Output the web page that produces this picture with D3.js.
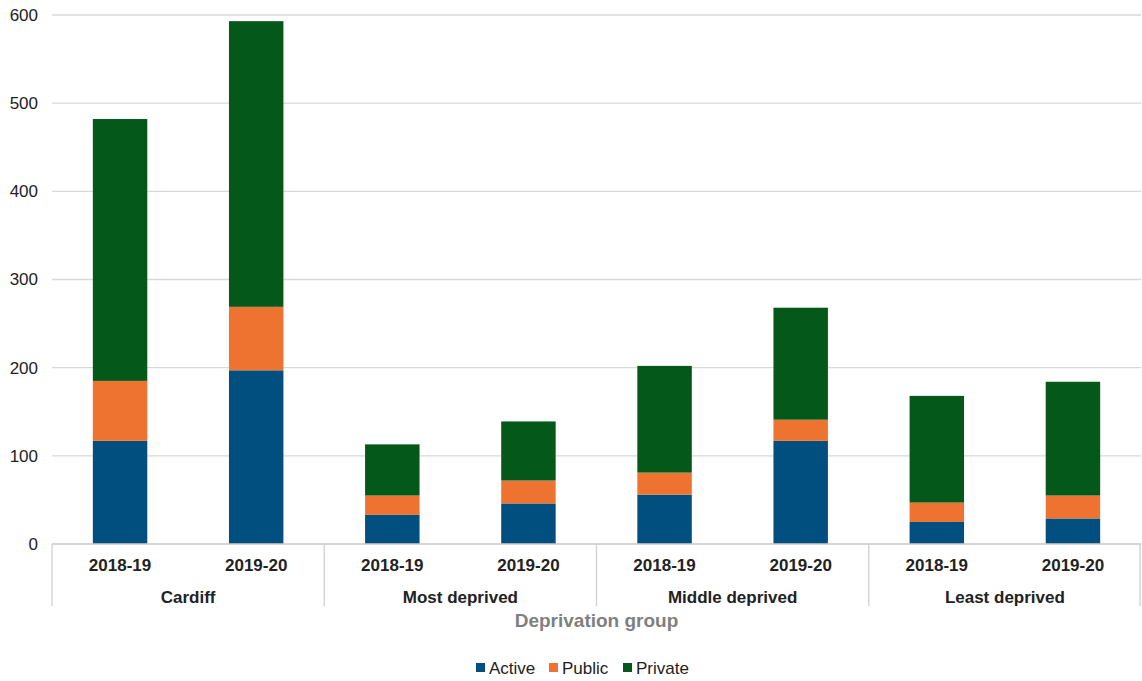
<!DOCTYPE html>
<html lang="en">
<head>
<meta charset="utf-8">
<title>Deprivation group</title>
<script src="https://cdnjs.cloudflare.com/ajax/libs/d3/7.8.5/d3.min.js"></script>
<style>
body { margin: 0; background: #fff; }
text { font-family: "Liberation Sans", Arial, sans-serif; }
.grid line { stroke: #d9d9d9; stroke-width: 1.3; }
.tick text { fill: #222; }
</style>
</head>
<body>
<div id="chart"></div>
<script>

var groups = ["Cardiff", "Most deprived", "Middle deprived", "Least deprived"];
var years = ["2018-19", "2019-20"];
var seriesNames = ["Active", "Public", "Private"];
var seriesColors = ["#004f7f", "#ee7331", "#03581a"];

// one value per group/year, in order
var active  = [117, 197, 33, 46, 56, 117, 25, 29];
var publicT = [68, 72, 22, 26, 25, 24, 22, 26];
var privateT = [297, 324, 58, 67, 121, 127, 121, 129];

var yTicks = [0, 100, 200, 300, 400, 500, 600];

var rows = [];
groups.forEach(function(g, gi) {
    years.forEach(function(y, yi) {
        var i = gi * years.length + yi;
        rows.push({group: g, year: y, Active: active[i], Public: publicT[i], Private: privateT[i]});
    });
});

var width = 1142, height = 681;
var margin = {left: 52, right: 1, top: 15, bottom: 137};

var svg = d3.select("#chart").append("svg")
    .attr("width", width)
    .attr("height", height);

var x0 = d3.scaleBand().domain(groups).range([margin.left, width - margin.right]);
var x1 = d3.scaleBand().domain(years).range([0, x0.bandwidth()]).paddingInner(0.6).paddingOuter(0.3);
var y = d3.scaleLinear().domain([0, 600]).range([height - margin.bottom, margin.top]);

// gridlines
svg.append("g")
    .attr("class", "grid")
    .selectAll("line")
    .data(yTicks)
    .enter().append("line")
        .attr("x1", margin.left)
        .attr("x2", width - margin.right)
        .attr("y1", function(d) { return y(d); })
        .attr("y2", function(d) { return y(d); });

// y axis labels
var yAxis = svg.append("g")
    .attr("transform", "translate(" + margin.left + ",0)")
    .call(d3.axisLeft(y).tickValues(yTicks).tickSize(0).tickPadding(14));
yAxis.select(".domain").remove();
yAxis.selectAll("text").style("font-size", "17px").style("font-family", "Liberation Sans, Arial, sans-serif");

var stack = d3.stack().keys(seriesNames);
var stacked = stack(rows);

var color = d3.scaleOrdinal().domain(seriesNames).range(seriesColors);

svg.append("g").selectAll("g")
    .data(stacked)
    .enter().append("g")
        .attr("fill", function(d) { return color(d.key); })
        .selectAll("rect")
        .data(function(d) { return d; })
        .enter().append("rect")
            .attr("x", function(d) { return x0(d.data.group) + x1(d.data.year); })
            .attr("width", x1.bandwidth())
            .attr("y", function(d) { return y(d[1]); })
            .attr("height", function(d) { return y(d[0]) - y(d[1]); });

// category axis
var base = y(0);
var axisG = svg.append("g");
axisG.append("line")
    .attr("x1", margin.left).attr("x2", width - margin.right)
    .attr("y1", base).attr("y2", base)
    .attr("stroke", "#d0d0d0").attr("stroke-width", 1.3);

var seps = groups.map(function(g) { return x0(g); }).concat([x0.range()[1] - 1]);
axisG.selectAll(".sep")
    .data(seps)
    .enter().append("line")
        .attr("class", "sep")
        .attr("x1", function(d) { return d; })
        .attr("x2", function(d) { return d; })
        .attr("y1", base)
        .attr("y2", base + 62)
        .attr("stroke", "#d0d0d0").attr("stroke-width", 1.3);

axisG.selectAll(".yr")
    .data(rows)
    .enter().append("text")
        .attr("class", "yr")
        .attr("x", function(d) { return x0(d.group) + x1(d.year) + x1.bandwidth() / 2; })
        .attr("y", base + 27)
        .attr("text-anchor", "middle")
        .style("font-size", "17px")
        .style("font-weight", "bold")
        .attr("fill", "#222")
        .text(function(d) { return d.year; });

axisG.selectAll(".grp")
    .data(groups)
    .enter().append("text")
        .attr("class", "grp")
        .attr("x", function(d) { return x0(d) + x0.bandwidth() / 2; })
        .attr("y", base + 59)
        .attr("text-anchor", "middle")
        .style("font-size", "17px")
        .style("font-weight", "bold")
        .attr("fill", "#222")
        .text(function(d) { return d; });

svg.append("text")
    .attr("x", (margin.left + width - margin.right) / 2)
    .attr("y", base + 83)
    .attr("text-anchor", "middle")
    .style("font-size", "19px")
    .style("font-weight", "bold")
    .attr("fill", "#7f7f7f")
    .text("Deprivation group");

// legend
var legend = svg.append("g").attr("transform", "translate(0," + 669 + ")");
var legendX = [476, 549, 623];
var item = legend.selectAll("g")
    .data(seriesNames)
    .enter().append("g")
        .attr("transform", function(d, i) { return "translate(" + legendX[i] + ",0)"; });
item.append("rect")
    .attr("x", 0).attr("y", -6)
    .attr("width", 9).attr("height", 9)
    .attr("fill", function(d) { return color(d); });
item.append("text")
    .attr("x", 13).attr("y", 5)
    .style("font-size", "17px")
    .attr("fill", "#222")
    .text(function(d) { return d; });

</script>
</body>
</html>
